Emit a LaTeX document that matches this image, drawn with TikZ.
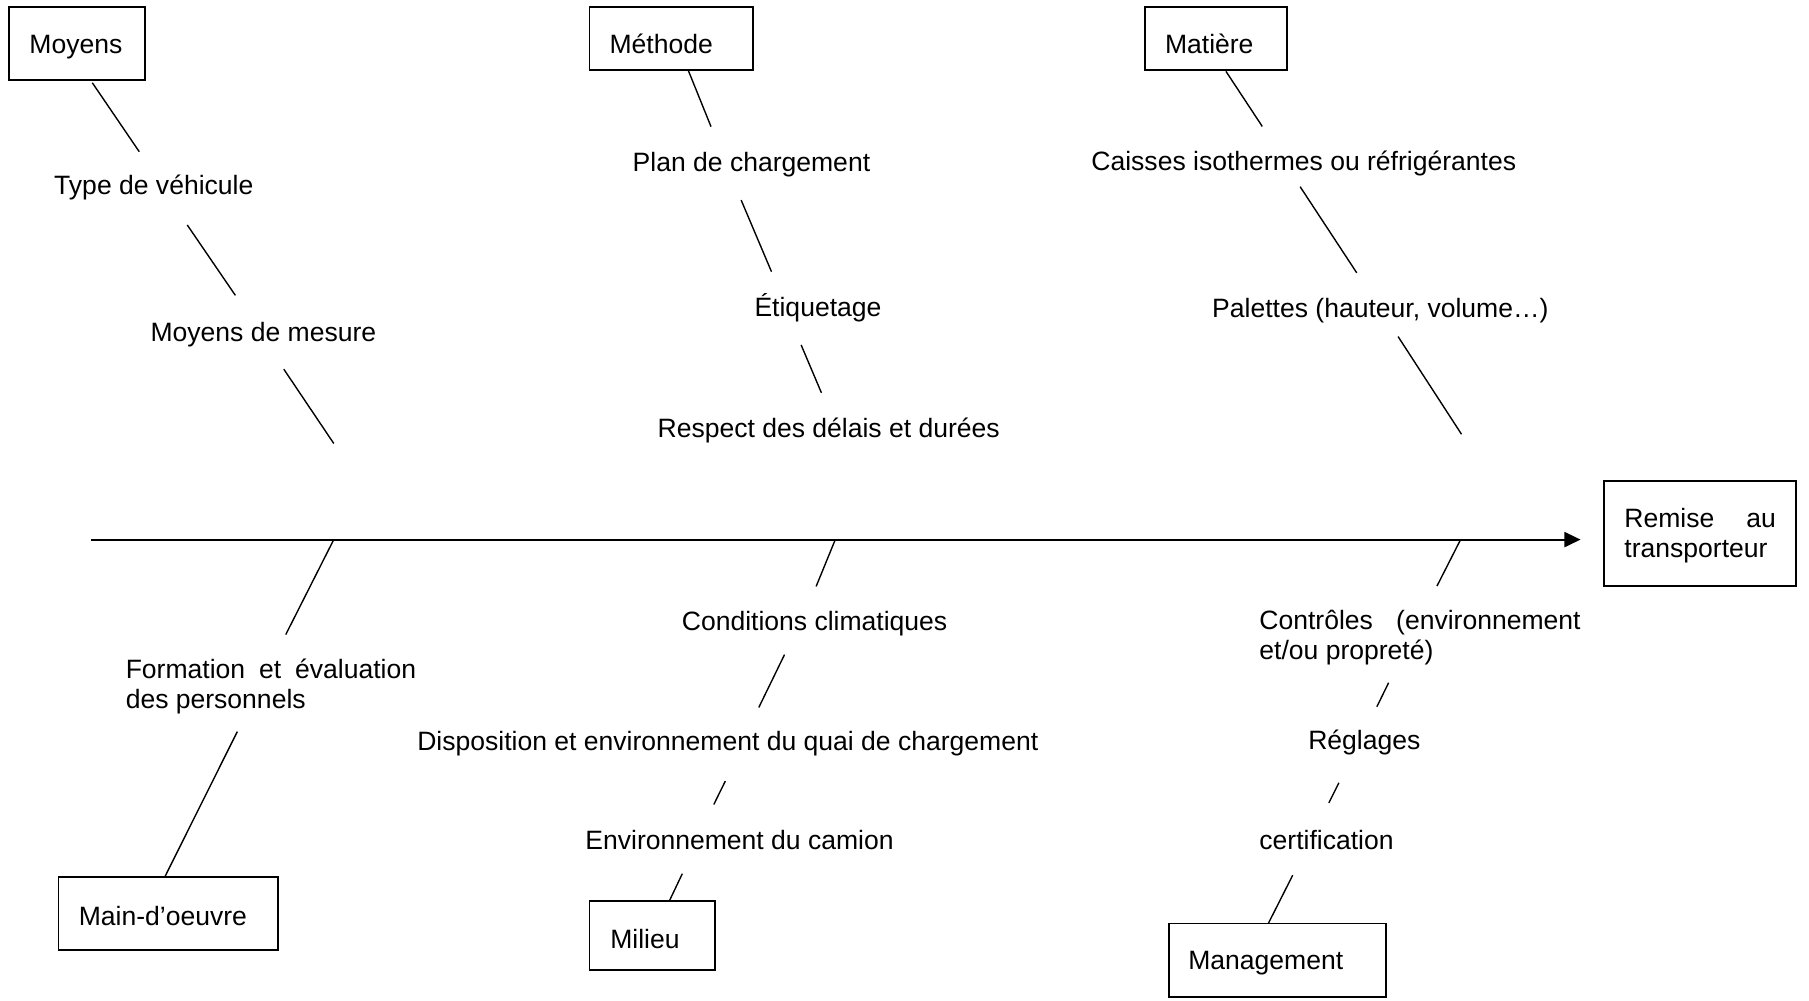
\documentclass[tikz,border=0pt]{standalone}
\usepackage{fontspec}
\setmainfont{Liberation Sans}
\usetikzlibrary{arrows.meta,fit}
\begin{document}
\begin{tikzpicture}[x=0.5pt,y=-0.5pt,
  txt/.style={inner sep=0pt, anchor=base west, xshift=-0.7pt, yshift=-1.2pt,
    font=\fontsize{11.5}{13}\selectfont},
  box/.style={draw, line width=0.8pt, inner sep=0pt},
  rib/.style={line width=0.6pt},
  spine/.style={line width=0.9pt, -{Triangle[length=7pt,width=6.5pt]}}]
\useasboundingbox (0,0) rectangle (1568,867.6);

% ---- category boxes ----
\node[box, fit={(8,6)(126,69)}] (moyens) {};
\node[txt] (moyens-t) at (26.5,44) {Moyens};
\node[box, fit={(511,6)(653,60.7)}] (methode) {};
\node[txt] (methode-t) at (529.4,44) {Méthode};
\node[box, fit={(992.5,6)(1115.6,61)}] (matiere) {};
\node[txt] (matiere-t) at (1010.8,44) {Matière};
\node[box, fit={(1390,417)(1557,508)}] (remise) {};
\node[txt] (remise-t1) at (1409,455) {\makebox[65.7pt][s]{Remise au}};
\node[txt] (remise-t2) at (1409,481) {transporteur};
\node[box, fit={(50.7,760.4)(241,823.3)}] (mainoeuvre) {};
\node[txt] (mainoeuvre-t) at (69.3,799.5) {Main-d’oeuvre};
\node[box, fit={(511,781.3)(620,840.7)}] (milieu) {};
\node[txt] (milieu-t) at (530,820) {Milieu};
\node[box, fit={(1013,800.5)(1201.6,864)}] (management) {};
\node[txt] (management-t) at (1031,838.2) {Management};

% ---- causes ----
\node[txt] (vehicule) at (48,166.3) {Type de véhicule};
\node[txt] (mesure) at (131.5,293.5) {Moyens de mesure};
\node[txt] (plan) at (549.4,146) {Plan de chargement};
\node[txt] (etiq) at (655,272) {Étiquetage};
\node[txt] (delais) at (571,376.4) {Respect des délais et durées};
\node[txt] (caisses) at (947,145.4) {Caisses isothermes ou réfrigérantes};
\node[txt] (palettes) at (1051.7,273) {Palettes (hauteur, volume…)};
\node[txt] (formation1) at (110,586) {\makebox[125.85pt][s]{Formation et évaluation}};
\node[txt] (formation2) at (110,612) {des personnels};
\node[txt] (climat) at (592,543.7) {Conditions climatiques};
\node[txt] (quai) at (362.7,648) {Disposition et environnement du quai de chargement};
\node[txt] (camion) at (508.4,734) {Environnement du camion};
\node[txt] (controles1) at (1092.6,543.5) {\makebox[139.2pt][s]{Contrôles (environnement}};
\node[txt] (controles2) at (1092.6,569.5) {et/ou propreté)};
\node[txt] (reglages) at (1135,647.5) {Réglages};
\node[txt] (certif) at (1092.6,734) {certification};

% ---- spine ----
\coordinate (tail) at (79.3,467.7);
\coordinate (head) at (1370,467.7);
\draw[spine] (tail) -- (head);

% ---- Moyens branch ----
\coordinate (mA1) at (80,71.7);    \coordinate (mA2) at (120.7,131.5);
\coordinate (mB1) at (162.3,195);  \coordinate (mB2) at (204,256);
\coordinate (mC1) at (246,320);    \coordinate (mC2) at (289.3,384.4);
\draw[rib] (mA1) -- (mA2);
\draw[rib] (mB1) -- (mB2);
\draw[rib] (mC1) -- (mC2);

% ---- Méthode branch ----
\coordinate (tA1) at (596.7,61.3);  \coordinate (tA2) at (616.3,109.8);
\coordinate (tB1) at (642.4,173.4); \coordinate (tB2) at (668.7,235.5);
\coordinate (tC1) at (694.4,299);   \coordinate (tC2) at (712,340.5);
\draw[rib] (tA1) -- (tA2);
\draw[rib] (tB1) -- (tB2);
\draw[rib] (tC1) -- (tC2);

% ---- Matière branch ----
\coordinate (aA1) at (1062.6,61.8);  \coordinate (aA2) at (1094.1,109.6);
\coordinate (aB1) at (1126.9,161.8); \coordinate (aB2) at (1176,236.5);
\coordinate (aC1) at (1211.8,291.7); \coordinate (aC2) at (1266.8,376.4);
\draw[rib] (aA1) -- (aA2);
\draw[rib] (aB1) -- (aB2);
\draw[rib] (aC1) -- (aC2);

% ---- Main-d'oeuvre branch ----
\coordinate (oA1) at (289.3,467.7); \coordinate (oA2) at (247.7,550);
\coordinate (oB1) at (205.7,634.1); \coordinate (oB2) at (142.7,760.4);
\draw[rib] (oA1) -- (oA2);
\draw[rib] (oB1) -- (oB2);

% ---- Milieu branch ----
\coordinate (lA1) at (724,467.7);   \coordinate (lA2) at (707.4,508.3);
\coordinate (lB1) at (680,567.4);   \coordinate (lB2) at (657.7,613.2);
\coordinate (lC1) at (628.7,677);   \coordinate (lC2) at (618.7,697.3);
\coordinate (lD1) at (591.4,757.3); \coordinate (lD2) at (580,781.3);
\draw[rib] (lA1) -- (lA2);
\draw[rib] (lB1) -- (lB2);
\draw[rib] (lC1) -- (lC2);
\draw[rib] (lD1) -- (lD2);

% ---- Management branch ----
\coordinate (gA1) at (1266,467.7);   \coordinate (gA2) at (1245.5,508);
\coordinate (gB1) at (1203.6,591.8); \coordinate (gB2) at (1193.4,612.6);
\coordinate (gC1) at (1160.5,678.5); \coordinate (gC2) at (1151.8,695.9);
\coordinate (gD1) at (1120.5,758.6); \coordinate (gD2) at (1099.3,800.5);
\draw[rib] (gA1) -- (gA2);
\draw[rib] (gB1) -- (gB2);
\draw[rib] (gC1) -- (gC2);
\draw[rib] (gD1) -- (gD2);
\end{tikzpicture}
\end{document}
